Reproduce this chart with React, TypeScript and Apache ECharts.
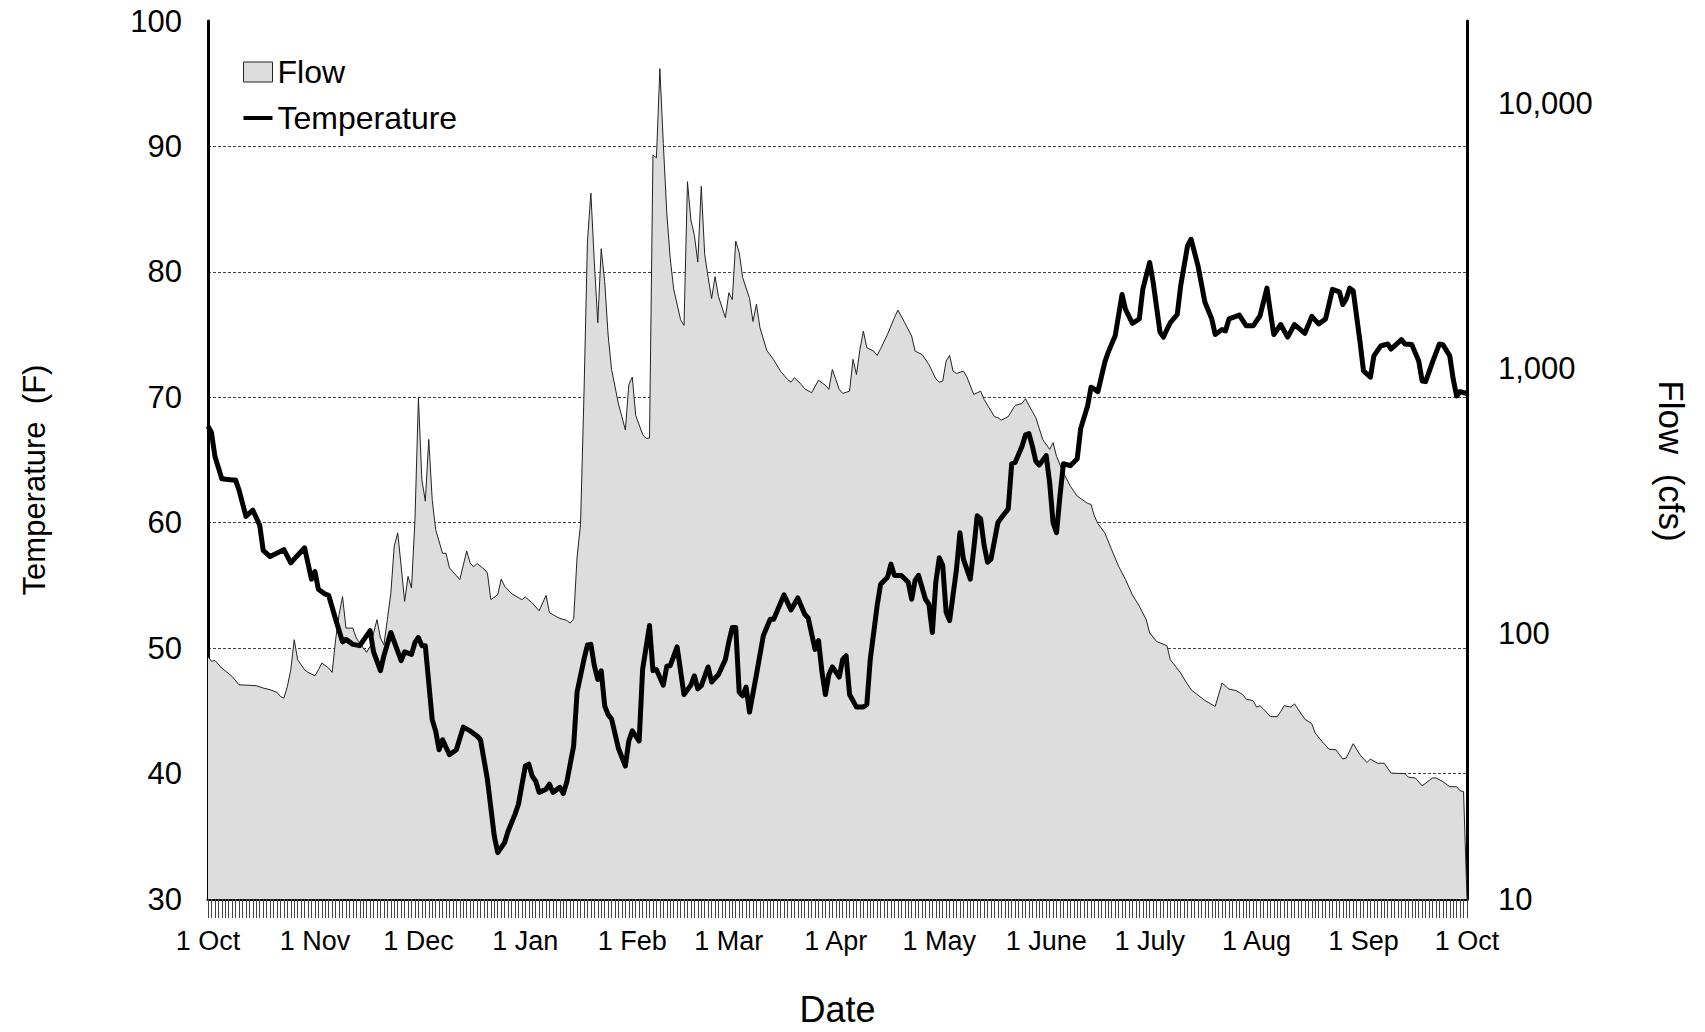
import { useEffect, useRef } from 'react';
import * as echarts from 'echarts';

// water year: day 0 = 1 Oct, day 365 = 1 Oct of the next year
const monthStarts = [0, 31, 61, 92, 123, 151, 182, 212, 243, 273, 304, 335, 365];
const monthLabels = ['1 Oct', '1 Nov', '1 Dec', '1 Jan', '1 Feb', '1 Mar', '1 Apr', '1 May', '1 June', '1 July', '1 Aug', '1 Sep', '1 Oct'];
const dayCount = 366;

// temperature (F) at its turning points
const tempDay = [
    0, 1, 2, 4, 7, 8, 9, 11, 13, 15, 16, 18, 22, 24, 28, 30, 31, 32, 34, 35, 37, 39, 40, 42, 44, 47, 48, 50, 51, 53,
    54, 56, 57, 59, 60, 61, 62, 63, 65, 66, 67, 68, 70, 72, 74, 76, 78, 79, 81, 83, 84, 86, 87, 89, 90, 92, 93, 94, 95, 96,
    98, 99, 100, 102, 103, 104, 106, 107, 109, 110, 111, 112, 113, 114, 115, 116, 117, 119, 121, 122, 123, 125, 126, 128, 129, 130,
    132, 133, 134, 136, 138, 140, 141, 142, 143, 145, 146, 148, 150, 151, 152, 153, 154, 155, 156, 157, 159, 161, 163, 164,
    166, 167, 169, 171, 173, 174, 176, 177, 178, 179, 180, 181, 183, 184, 185, 186, 188, 190, 191, 192, 194, 195, 197, 198,
    199, 201, 203, 204, 205, 206, 208, 209, 210, 211, 212, 213, 214, 215, 217, 218, 219, 221, 222, 223, 224, 225, 226, 227,
    229, 230, 232, 233, 234, 236, 237, 238, 239, 240, 241, 243, 244, 245, 246, 247, 248, 250, 252, 253, 255, 256, 257, 258,
    260, 261, 263, 265, 266, 268, 270, 271, 273, 274, 276, 277, 278, 279, 281, 282, 284, 285, 287, 289, 291, 292, 294, 295,
    296, 299, 301, 303, 305, 307, 308, 309, 311, 313, 315, 318, 320, 322, 324, 326, 328, 329, 330, 331, 332, 334, 335, 337,
    338, 340, 342, 343, 346, 347, 349, 351, 352, 353, 355, 357, 358, 360, 361, 362, 363, 365,
];
const tempF = [
    67.7, 67.2, 65.3, 63.5, 63.4, 63.4, 62.6, 60.5, 61.0, 59.8, 57.8, 57.3, 57.85, 56.8, 58.0, 55.5, 56.1, 54.7, 54.3, 54.2, 52.3, 50.5, 50.7, 50.3, 50.2, 51.4, 49.7, 48.2, 49.4, 51.25,
    50.5, 49.0, 49.7, 49.5, 50.45, 50.85, 50.2, 50.2, 44.3, 43.4, 41.9, 42.7, 41.5, 41.9, 43.7, 43.4, 43.0, 42.7, 39.55, 35.0, 33.7, 34.5, 35.4, 36.75, 37.55, 40.6, 40.75, 39.8, 39.4, 38.5,
    38.75, 39.15, 38.5, 38.9, 38.4, 39.3, 42.2, 46.5, 49.1, 50.25, 50.3, 48.6, 47.5, 48.2, 45.4, 44.7, 44.35, 42.0, 40.6, 42.6, 43.4, 42.6, 48.3, 51.8, 48.2, 48.3,
    47.05, 48.55, 48.6, 50.1, 46.3, 47.05, 47.8, 46.75, 47.0, 48.5, 47.3, 47.9, 49.1, 50.5, 51.65, 51.65, 46.5, 46.2, 46.9, 44.9, 47.9, 51.0, 52.3, 52.3,
    53.6, 54.25, 53.05, 54.0, 52.7, 52.4, 49.9, 50.6, 48.1, 46.3, 47.9, 48.5, 47.7, 49.1, 49.4, 46.3, 45.3, 45.3, 45.5, 49.1, 53.4, 55.1, 55.65, 56.7,
    55.8, 55.8, 55.25, 53.9, 55.4, 55.8, 53.9, 53.5, 51.25, 55.25, 57.2, 56.6, 52.85, 52.2, 56.3, 59.2, 57.1, 55.5, 57.9, 60.55, 60.3, 58.2, 56.85, 57.1,
    60.0, 60.4, 61.1, 64.7, 64.8, 66.1, 67.0, 67.1, 66.1, 64.9, 64.6, 65.35, 63.2, 60.0, 59.2, 62.15, 64.7, 64.55, 65.1, 67.5, 69.3, 70.8, 70.65, 70.45,
    72.8, 73.6, 74.9, 78.2, 77.0, 75.9, 76.25, 78.6, 80.75, 79.2, 75.2, 74.8, 75.4, 75.95, 76.6, 78.9, 82.1, 82.6, 80.5, 77.6, 76.25, 75.0, 75.4, 75.3,
    76.25, 76.55, 75.7, 75.7, 76.5, 78.7, 76.8, 75.0, 75.8, 74.8, 75.8, 75.1, 76.45, 75.85, 76.25, 78.6, 78.4, 77.4, 77.85, 78.7, 78.5, 74.4, 72.1, 71.6,
    73.3, 74.1, 74.25, 73.85, 74.6, 74.25, 74.2, 72.9, 71.3, 71.25, 72.8, 74.25, 74.2, 73.3, 71.45, 70.1, 70.45, 70.3,
];

// flow (cfs) at its turning points
const flowDay = [
    0, 1, 2, 4, 7, 9, 14, 16, 18, 20, 21, 22, 23, 24, 25, 26, 28, 29, 31, 32, 33, 35, 36, 37, 38, 39, 40, 42, 43, 45,
    46, 47, 48, 49, 50, 51, 52, 53, 54, 55, 56, 57, 58, 59, 60, 61, 62, 63, 64, 65, 66, 68, 69, 70, 73, 75, 76, 77, 78, 80,
    81, 82, 84, 85, 86, 88, 91, 92, 94, 96, 98, 99, 101, 102, 104, 105, 106, 107, 108, 109, 110, 111, 112, 113, 114, 115, 116, 117, 119, 121,
    122, 123, 124, 126, 127, 128, 129, 130, 131, 132, 133, 134, 135, 137, 138, 139, 140, 141, 142, 143, 144, 145, 146, 147, 148, 150,
    151, 152, 153, 154, 155, 157, 158, 159, 160, 162, 164, 166, 168, 169, 170, 172, 173, 175, 177, 179, 180, 181, 182, 183,
    184, 186, 187, 188, 189, 190, 191, 193, 194, 195, 197, 199, 200, 202, 204, 205, 207, 209, 211, 212, 213, 214, 215, 216,
    217, 219, 220, 222, 224, 225, 228, 229, 230, 232, 234, 236, 237, 238, 240, 242, 244, 245, 246, 248, 250, 252, 255, 256,
    257, 258, 260, 262, 264, 266, 268, 270, 272, 273, 275, 278, 279, 282, 283, 285, 289, 292, 294, 296, 298, 300, 301, 303,
    304, 305, 306, 308, 310, 311, 312, 314, 315, 316, 318, 320, 321, 323, 325, 327, 329, 330, 332, 334, 336, 337, 339, 341,
    343, 347, 348, 350, 352, 355, 356, 358, 360, 362, 363, 364, 365,
];
const flowCfs = [
    82, 78.7, 79.3, 74.2, 69, 64.2, 63.7, 62.4, 61.5, 60.1, 58, 57.2, 63.2, 73.1, 94.9, 79.8, 73.1, 71.5, 69.4, 73.1, 77.5, 74.2, 71.5, 95, 118, 138, 105, 105, 96.3, 88.3,
    85.1, 89.6, 100.6, 113, 96.3, 90.8, 113, 142, 214, 240, 179.6, 132.4, 164.5, 148.6, 269, 774, 381, 316, 540, 320, 247, 201, 201, 177, 160, 205, 185, 178.6, 184, 175.4,
    169.4, 134.4, 140.3, 160.7, 150.9, 141.6, 134.4, 137.4, 130.6, 122, 139.4, 120, 116, 114.2, 112.3, 109.7, 113.4, 194.4, 257.8, 800, 3000, 4580, 2517, 1487, 2827, 2129, 1337, 991, 735, 586,
    867, 928, 665, 564, 545, 546, 6380, 6220, 13490, 7050, 3874, 2600, 1994, 1528, 1452, 5058, 3628, 3178, 2517, 4857, 2688, 2203, 1834, 2218, 1866, 1553,
    1928, 1817, 3020, 2733, 2203, 1834, 1503, 1745, 1429, 1170, 1077, 976, 909, 888, 922, 870, 838, 810, 903, 863, 834, 991, 909, 834,
    805, 821, 1082, 949, 1180, 1383, 1197, 1162, 1120, 1187, 1344, 1553, 1660, 1487, 1324, 1162, 1129, 1035, 914, 888, 896, 1066, 1120, 977,
    957, 977, 930, 798, 821, 764, 658, 652, 638, 658, 725, 738, 769, 725, 652, 540, 495, 525, 466, 404, 360, 330, 310, 307,
    277, 260, 240, 207, 179.5, 160, 140, 127, 113, 100.7, 93.5, 90.1, 79.8, 71.1, 67.5, 61.5, 56, 53.2, 65.2, 61.8, 61.1, 58.9, 56.7, 55.9,
    52.9, 53.5, 52, 48.7, 48.7, 50.9, 53.5, 52.9, 54.4, 52, 47.6, 45.8, 42.2, 39.2, 36.7, 36.5, 33.7, 34, 38.5, 34.9, 32.7, 33.7, 32.5, 32.5,
    29.8, 29.7, 28.8, 28.6, 26.7, 28.6, 28.6, 27.7, 26.5, 26.5, 25.6, 25.4, 10,
];

const font = "'Liberation Sans', Arial, sans-serif";

// legend icon for the temperature line: a thin bar centred in a 29x20 box
const lineIcon = 'path://M0,0 L0,0 M0,8 L29,8 L29,12 L0,12 Z M29,20 L29,20';

export default function App() {
    const chartRef = useRef<HTMLDivElement>(null);

    useEffect(() => {
        document.body.style.margin = '0';
        if (!chartRef.current) return;
        const chart = echarts.init(chartRef.current, undefined, { renderer: 'svg' });

        const days = Array.from({ length: dayCount }, (_, i) => String(i));

        const option = {
            animation: false,
            backgroundColor: '#ffffff',
            textStyle: { fontFamily: font, color: '#000' },
            grid: { left: 208, right: 238, top: 21, bottom: 131, containLabel: false },
            legend: {
                orient: 'vertical',
                left: 243,
                top: 56,
                itemWidth: 29,
                itemHeight: 20,
                itemGap: 14,
                padding: 0,
                textStyle: { fontFamily: font, fontSize: 32, color: '#000', lineHeight: 32 },
                data: [
                    { name: 'Flow', icon: 'rect', itemStyle: { color: '#dddddd', borderColor: '#222', borderWidth: 1 } },
                    { name: 'Temperature', icon: lineIcon, itemStyle: { color: '#000', borderWidth: 0 } },
                ],
            },
            graphic: [
                {
                    type: 'text',
                    x: 34,
                    y: 480,
                    rotation: Math.PI / 2,
                    style: {
                        text: 'Temperature  (F)',
                        fontFamily: font,
                        fontSize: 31,
                        fill: '#000',
                        align: 'center',
                        verticalAlign: 'middle',
                    },
                },
                {
                    type: 'text',
                    x: 1671,
                    y: 461,
                    rotation: -Math.PI / 2,
                    style: {
                        text: 'Flow  (cfs)',
                        fontFamily: font,
                        fontSize: 35,
                        fill: '#000',
                        align: 'center',
                        verticalAlign: 'middle',
                    },
                },
            ],
            xAxis: {
                type: 'category',
                data: days,
                boundaryGap: false,
                name: 'Date',
                nameLocation: 'middle',
                nameGap: 92,
                nameTextStyle: { fontFamily: font, fontSize: 36, color: '#000' },
                axisLine: { lineStyle: { color: '#000', width: 3 } },
                axisTick: { interval: 0, length: 19, lineStyle: { color: '#444', width: 1 } },
                axisLabel: {
                    interval: (index: number) => monthStarts.includes(index),
                    formatter: (_: string, index: number) => {
                        const k = monthStarts.indexOf(index);
                        return k >= 0 ? monthLabels[k] : '';
                    },
                    fontFamily: font,
                    fontSize: 27,
                    color: '#000',
                    margin: 28,
                },
                splitLine: { show: false },
            },
            yAxis: [
                {
                    type: 'value',
                    position: 'left',
                    min: 30,
                    max: 100,
                    interval: 10,
                    axisLine: { show: true, lineStyle: { color: '#000', width: 3 } },
                    axisTick: { show: false },
                    axisLabel: { fontFamily: font, fontSize: 31, color: '#000', margin: 26 },
                    splitLine: {
                        show: true,
                        showMinLine: false,
                        showMaxLine: false,
                        lineStyle: { color: '#444', width: 1, type: [3, 2] },
                    },
                },
                {
                    type: 'log',
                    logBase: 10,
                    position: 'right',
                    min: 10,
                    max: 20400,
                    axisLine: { show: true, lineStyle: { color: '#000', width: 3 } },
                    axisTick: { show: false },
                    axisLabel: {
                        fontFamily: font,
                        fontSize: 31,
                        color: '#000',
                        margin: 31,
                        showMaxLabel: false,
                        formatter: (v: number) => Math.round(v).toLocaleString('en-US'),
                    },
                    splitLine: { show: false },
                },
            ],
            series: [
                {
                    name: 'Flow',
                    type: 'line',
                    yAxisIndex: 1,
                    symbol: 'none',
                    data: flowDay.map((d, i) => [d, flowCfs[i]]),
                    lineStyle: { color: '#222', width: 1 },
                    itemStyle: { color: '#dddddd' },
                    areaStyle: { color: '#dddddd', opacity: 1 },
                    z: 2,
                },
                {
                    name: 'Temperature',
                    type: 'line',
                    yAxisIndex: 0,
                    symbol: 'none',
                    data: tempDay.map((d, i) => [d, tempF[i]]),
                    lineStyle: { color: '#000', width: 5, join: 'round' },
                    itemStyle: { color: '#000' },
                    z: 3,
                },
            ],
        };

        chart.setOption(option);

        return () => {
            chart.dispose();
        };
    }, []);

    return <div ref={chartRef} style={{ width: '1705px', height: '1032px' }} />;
}
